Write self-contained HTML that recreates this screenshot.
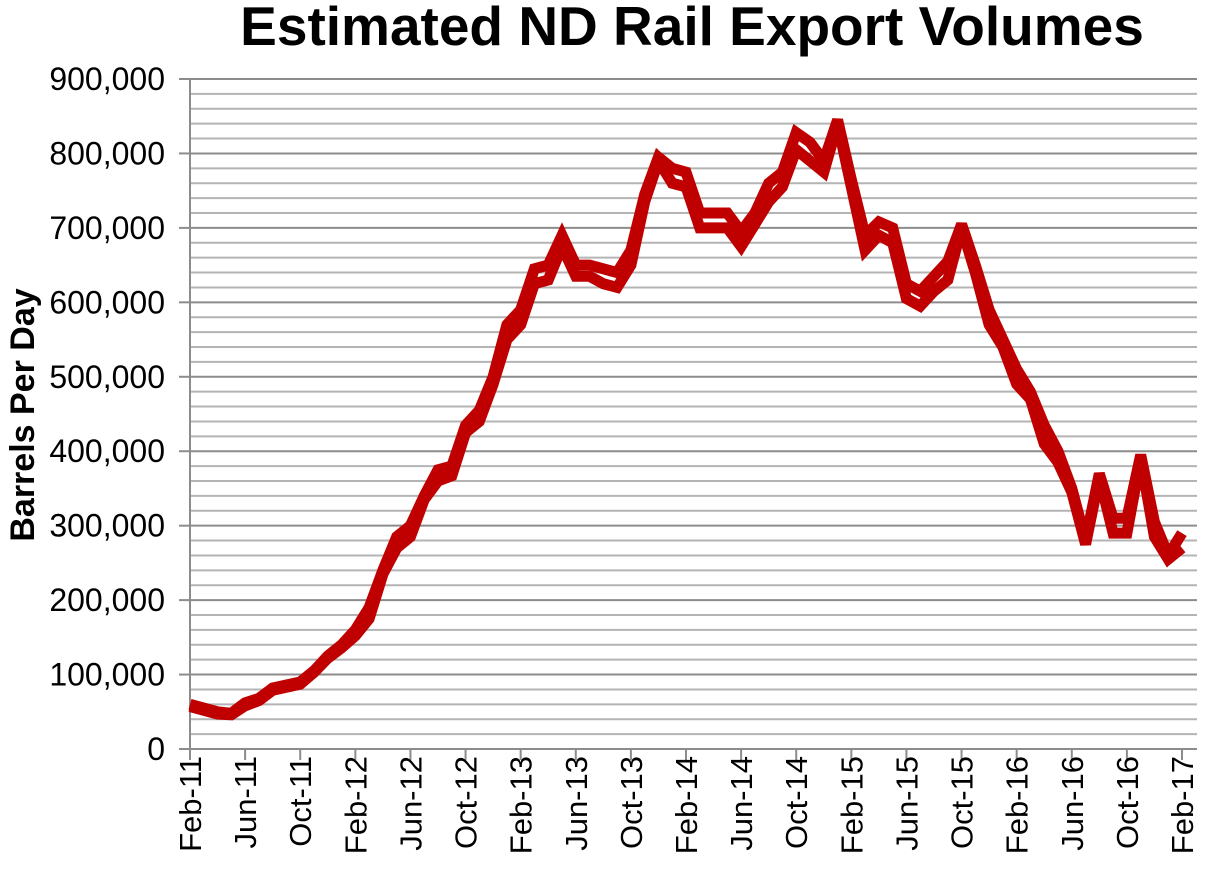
<!DOCTYPE html>
<html><head><meta charset="utf-8"><style>
html,body{margin:0;padding:0;background:#fff;}
svg{display:block;font-family:"Liberation Sans",Arial,sans-serif;}
</style></head><body>
<svg id="c" width="1207" height="876" xmlns="http://www.w3.org/2000/svg">
<text x="692" y="45" text-anchor="middle" font-size="55" font-weight="bold">Estimated ND Rail Export Volumes</text>
<text transform="translate(34,415) rotate(-90)" text-anchor="middle" font-size="34" font-weight="bold">Barrels Per Day</text>
<g id="grid"></g>
<g id="lines"></g>
</svg>
<script>
var ns="http://www.w3.org/2000/svg",svg=document.getElementById('c');
function el(t,a,p){var e=document.createElementNS(ns,t);for(var k in a)e.setAttribute(k,a[k]);(p||svg).appendChild(e);return e;}
var x0=190,dx=(1182-190)/72,y0=749,ky=(749-79)/900;
function Y(v){return y0-v*ky;}
var g=document.getElementById('grid');
for(var v=20;v<=900;v+=20){var maj=v%100==0;el('line',{x1:x0,x2:1197,y1:Y(v),y2:Y(v),stroke:maj?'#8c8c8c':'#b4b4b4','stroke-width':2},g);}
for(var v=0;v<=900;v+=100){el('line',{x1:179,x2:x0,y1:Y(v),y2:Y(v),stroke:'#8c8c8c','stroke-width':2},g);
var t=el('text',{x:165,y:Y(v)+11,'text-anchor':'end','font-size':32},g);t.textContent=v==0?'0':(v+',000');}
el('line',{x1:x0,x2:x0,y1:79,y2:760,stroke:'#8c8c8c','stroke-width':2},g);
el('line',{x1:x0,x2:1197,y1:y0,y2:y0,stroke:'#8c8c8c','stroke-width':2},g);
var labs=['Feb-11','Jun-11','Oct-11','Feb-12','Jun-12','Oct-12','Feb-13','Jun-13','Oct-13','Feb-14','Jun-14','Oct-14','Feb-15','Jun-15','Oct-15','Feb-16','Jun-16','Oct-16','Feb-17'];
for(var i=0;i<labs.length;i++){var x=x0+i*4*dx;el('line',{x1:x,x2:x,y1:y0,y2:760,stroke:'#8c8c8c','stroke-width':2},g);
var t=el('text',{transform:'translate('+(x+11)+',756) rotate(-90)','text-anchor':'end','font-size':31},g);t.textContent=labs[i];}
var A=[60,55,50,48,62,68,82,86,90,105,125,140,160,190,240,285,300,340,375,380,435,455,500,570,590,645,650,690,650,650,645,640,670,745,795,780,775,720,720,720,695,720,760,775,828,815,790,845,765,690,708,700,625,615,635,655,705,650,590,550,510,480,435,400,350,280,370,310,310,395,305,260,290];
var B=[57,52,47,46,58,65,79,83,87,103,122,136,152,175,235,270,285,335,360,367,425,440,490,550,570,625,630,675,635,635,625,620,650,735,790,760,755,700,700,700,675,705,735,755,805,790,775,840,755,670,690,680,605,595,615,630,700,640,570,540,490,470,410,385,345,275,365,290,290,390,285,255,270];
var L=document.getElementById('lines');
[A,B].forEach(function(s){var p=s.map(function(v,i){return (x0+i*dx).toFixed(1)+','+Y(v).toFixed(1);}).join(' ');
el('polyline',{points:p,fill:'none',stroke:'#c00000','stroke-width':11,'stroke-linejoin':'miter','stroke-miterlimit':3},L);});
</script>
</body></html>
